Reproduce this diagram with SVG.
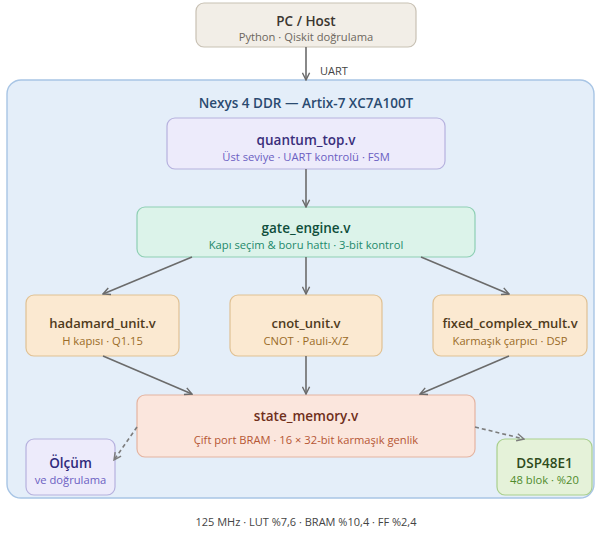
<svg xmlns="http://www.w3.org/2000/svg" width="596" height="534" viewBox="0 0 596 534">
  <defs>
    <marker id="arrow" viewBox="0 0 10 10" refX="9" refY="5" markerWidth="9" markerHeight="9" markerUnits="userSpaceOnUse" orient="auto">
      <path d="M1,1 L9,5 L1,9" fill="none" stroke="#6b6b6b" stroke-width="1.6"/>
    </marker>
    <marker id="arrow-dash" viewBox="0 0 10 10" refX="9" refY="5" markerWidth="9" markerHeight="9" markerUnits="userSpaceOnUse" orient="auto">
      <path d="M1,1 L9,5 L1,9" fill="none" stroke="#7c7c7c" stroke-width="1.6"/>
    </marker>
  </defs>
  <style>
    text { font-family: "Open Sans", "Noto Sans", "Liberation Sans", sans-serif; text-anchor: middle; }
    .t { font-size: 13.5px; font-weight: 600; }
    .tm { font-size: 13px; font-weight: 600; }
    .s { font-size: 11.2px; }
    .box { stroke-width: 1.2; }
    .link { fill: none; stroke: #6b6b6b; stroke-width: 1.6; marker-end: url(#arrow); }
    .dash { fill: none; stroke: #7c7c7c; stroke-width: 1.6; stroke-dasharray: 4 3; marker-end: url(#arrow-dash); }
  </style>

  <rect width="596" height="534" fill="#ffffff"/>

  <!-- host PC -->
  <g id="host">
    <rect class="box" x="196" y="3" width="220" height="44" rx="8" fill="#f2eee7" stroke="#c8c1b4"/>
    <text class="t" x="306" y="26" fill="#3b3630">PC / Host</text>
    <text class="s" x="306" y="41" fill="#6d675e">Python · Qiskit doğrulama</text>
  </g>

  <!-- FPGA board -->
  <g id="board">
    <rect x="7" y="80" width="587" height="418" rx="14" fill="#e4eef9" stroke="#a8c5e5" stroke-width="1.4"/>
    <text x="306" y="108" font-size="13.5" font-weight="600" fill="#2a4a70">Nexys 4 DDR — Artix-7 XC7A100T</text>
  </g>

  <g id="quantum_top">
    <rect class="box" x="167" y="118" width="278" height="51" rx="8" fill="#edebfb" stroke="#b6b1de"/>
    <text class="t" x="306" y="145" fill="#3a2f7c">quantum_top.v</text>
    <text class="s" x="306" y="161" fill="#6b60c2">Üst seviye · UART kontrolü · FSM</text>
  </g>

  <g id="gate_engine">
    <rect class="box" x="137" y="207" width="338" height="50" rx="8" fill="#dcf3ea" stroke="#8ecfb4"/>
    <text class="t" x="306" y="233" fill="#0f4e3b">gate_engine.v</text>
    <text class="s" x="306" y="249" fill="#23896a">Kapı seçim &amp; boru hattı · 3-bit kontrol</text>
  </g>

  <g id="hadamard_unit">
    <rect class="box" x="26" y="295" width="153" height="61" rx="8" fill="#fbe9d1" stroke="#e0c193"/>
    <text class="tm" x="102.5" y="328" fill="#4f3b1c">hadamard_unit.v</text>
    <text class="s" x="102.5" y="345" fill="#9a6b27">H kapısı · Q1.15</text>
  </g>

  <g id="cnot_unit">
    <rect class="box" x="230" y="295" width="152" height="61" rx="8" fill="#fbe9d1" stroke="#e0c193"/>
    <text class="tm" x="306" y="328" fill="#4f3b1c">cnot_unit.v</text>
    <text class="s" x="306" y="345" fill="#9a6b27">CNOT · Pauli-X/Z</text>
  </g>

  <g id="fixed_complex_mult">
    <rect class="box" x="433" y="295" width="154" height="61" rx="8" fill="#fbe9d1" stroke="#e0c193"/>
    <text class="tm" x="510" y="328" fill="#4f3b1c">fixed_complex_mult.v</text>
    <text class="s" x="510" y="345" fill="#9a6b27">Karmaşık çarpıcı · DSP</text>
  </g>

  <g id="state_memory">
    <rect class="box" x="137" y="395" width="338" height="62" rx="8" fill="#fbe6dd" stroke="#e4b4a1"/>
    <text class="t" x="306" y="421" fill="#6f2f1b">state_memory.v</text>
    <text class="s" x="306" y="444" fill="#b65634">Çift port BRAM · 16 × 32-bit karmaşık genlik</text>
  </g>

  <g id="measure">
    <rect class="box" x="26" y="439" width="89" height="56" rx="8" fill="#edebfb" stroke="#b6b1de"/>
    <text class="t" x="70.5" y="468" fill="#2f2a7c">Ölçüm</text>
    <text class="s" x="70.5" y="484" fill="#6b60c2">ve doğrulama</text>
  </g>

  <g id="dsp48e1">
    <rect class="box" x="497" y="439" width="95" height="56" rx="8" fill="#e5f2d9" stroke="#a9cf8d"/>
    <text class="t" x="544.5" y="468" fill="#2e4b1b">DSP48E1</text>
    <text class="s" x="544.5" y="484" fill="#4f8b2c">48 blok · %20</text>
  </g>

  <!-- connectors -->
  <g id="connectors">
    <line class="link" x1="306" y1="47" x2="306" y2="80"/>
    <text x="320" y="75" font-size="11" fill="#444444" style="text-anchor:start">UART</text>
    <line class="link" x1="306" y1="169" x2="306" y2="207"/>
    <line class="link" x1="192" y1="257" x2="103" y2="294"/>
    <line class="link" x1="306" y1="257" x2="306" y2="294"/>
    <line class="link" x1="421" y1="257" x2="509" y2="294"/>
    <line class="link" x1="103" y1="356" x2="192" y2="394"/>
    <line class="link" x1="306" y1="356" x2="306" y2="394"/>
    <line class="link" x1="509" y1="356" x2="420" y2="394"/>
    <line class="dash" x1="137" y1="427" x2="114" y2="460"/>
    <line class="dash" x1="475" y1="427" x2="524" y2="439"/>
  </g>

  <text x="306" y="526" font-size="11" fill="#444444">125 MHz · LUT %7,6 · BRAM %10,4 · FF %2,4</text>
</svg>
